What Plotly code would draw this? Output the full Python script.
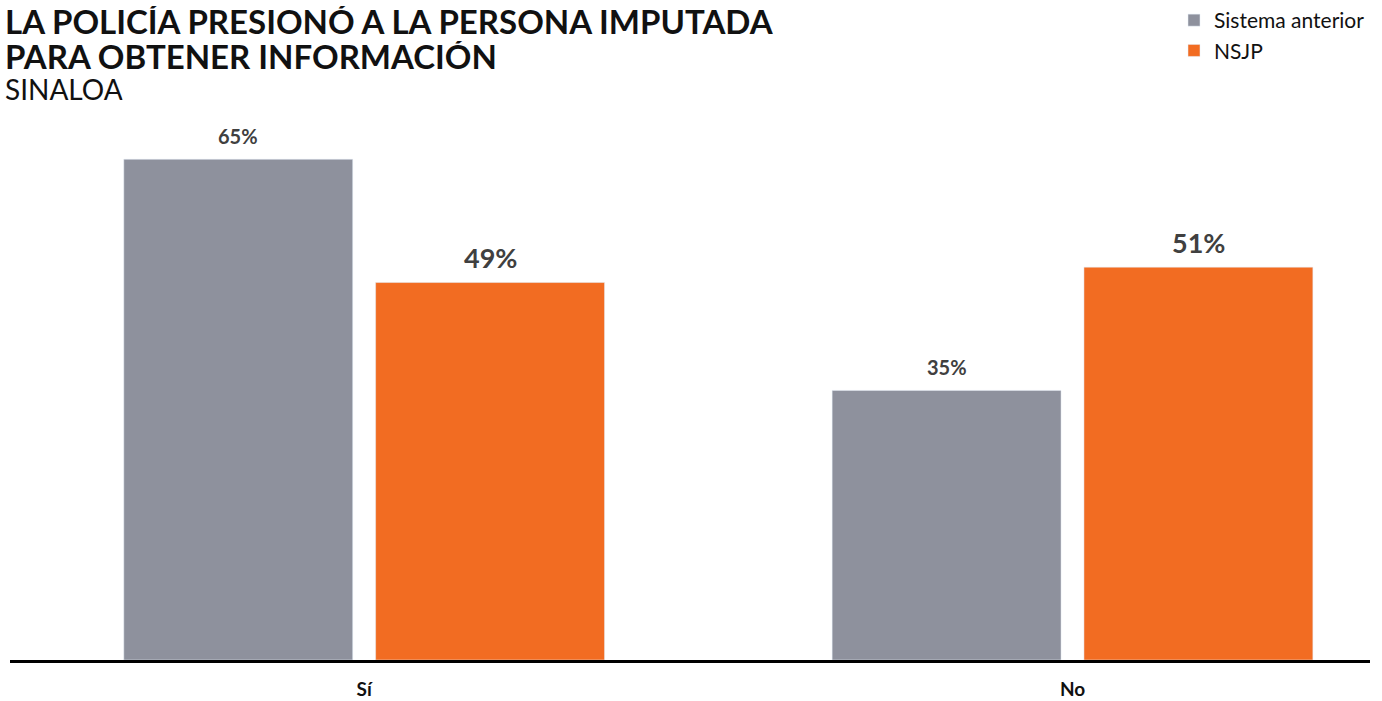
import plotly.graph_objects as go

categorias = ["Sí", "No"]
sistema_anterior = [65, 35]
nsjp = [49, 51]

GRIS = "#8E919D"
NARANJA = "#F26C22"
TEXTO = "#404040"
FUENTE = "Lato"

fig = go.Figure()
fig.add_trace(go.Bar(x=categorias, y=sistema_anterior, name="Sistema anterior",
                     marker_color=GRIS, hoverinfo="y"))
fig.add_trace(go.Bar(x=categorias, y=nsjp, name="NSJP",
                     marker_color=NARANJA, hoverinfo="y"))

# etiquetas de porcentaje encima de cada barra
for cat, v in zip(categorias, sistema_anterior):
    fig.add_annotation(x=cat, y=v, text=f"{v}%", showarrow=False, xshift=-126, yshift=23,
                       yanchor="middle", font=dict(family=FUENTE, size=20, color=TEXTO, weight="bold"))
for cat, v in zip(categorias, nsjp):
    fig.add_annotation(x=cat, y=v, text=f"{v}%", showarrow=False, xshift=126, yshift=25,
                       yanchor="middle", font=dict(family=FUENTE, size=27, color=TEXTO, weight="bold"))

# titulo (dos lineas) y subtitulo
titulo = ["LA POLICÍA PRESIONÓ A LA PERSONA IMPUTADA", "PARA OBTENER INFORMACIÓN"]
for linea, dy in zip(titulo, [99, 64]):
    fig.add_annotation(text=linea, xref="paper", yref="paper", x=0, y=1, xshift=-7, yshift=dy,
                       xanchor="left", yanchor="middle", showarrow=False, height=30,
                       font=dict(family=FUENTE, size=33, color="#111111", weight="bold"))
fig.add_annotation(text="SINALOA", xref="paper", yref="paper", x=0, y=1, xshift=-7, yshift=31,
                   xanchor="left", yanchor="middle", showarrow=False, height=26,
                   font=dict(family=FUENTE, size=28, color="#111111"))

fig.update_layout(
    width=1382, height=701,
    margin=dict(l=10, r=12, t=120, b=41, autoexpand=False),
    paper_bgcolor="white", plot_bgcolor="white",
    barmode="group", bargap=0.289, bargroupgap=0.091,
    legend=dict(x=1.0, xanchor="right", y=1.0, yanchor="top", xref="paper", yref="container",
                font=dict(family=FUENTE, size=21, color="#111111"), bgcolor="rgba(0,0,0,0)",
                traceorder="normal", tracegroupgap=0),
    font=dict(family=FUENTE),
)
fig.update_xaxes(range=[-0.5, 1.42], showline=True, linecolor="black", linewidth=2.5,
                 ticks="", ticklabelstandoff=10,
                 tickfont=dict(family=FUENTE, size=19, color="#111111", weight="bold"))
fig.update_yaxes(range=[0, 70.1], visible=False, showgrid=False)

fig.write_html("out.html", config={"displayModeBar": False},
               post_script="document.body.style.margin='0';")
